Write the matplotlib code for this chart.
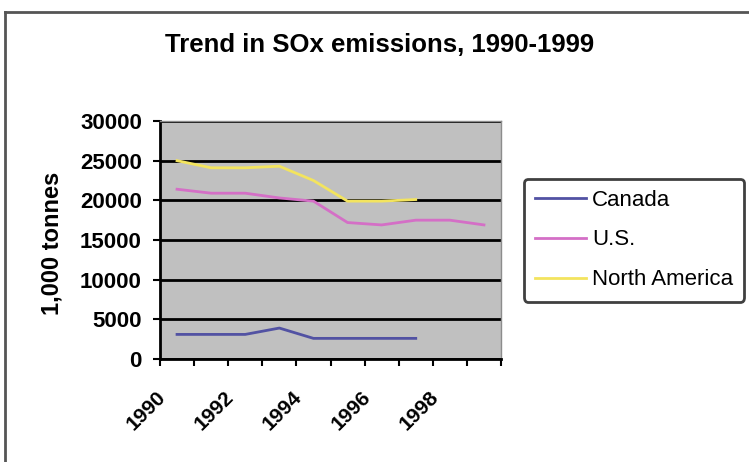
import matplotlib
matplotlib.use('Agg')
import matplotlib.pyplot as plt
import matplotlib.transforms as mtransforms

# values (1,000 tonnes)
years = [1990, 1991, 1992, 1993, 1994, 1995, 1996, 1997, 1998, 1999]
canada = [3100, 3100, 3100, 3900, 2600, 2600, 2600, 2600]
us = [21400, 20900, 20900, 20300, 19900, 17200, 16900, 17500, 17500, 16900]
north_america = [25000, 24100, 24100, 24300, 22500, 19900, 19900, 20100]
year_labels = ['1990', '1992', '1994', '1996', '1998']

plt.rcParams['font.family'] = ['Liberation Sans', 'DejaVu Sans']

fig = plt.figure(figsize=(7.49, 4.62), dpi=100)
ax = fig.add_axes([160/749, 1-359/462, 341/749, 238/462])
ax.set_facecolor('#c0c0c0')

x = list(range(len(years)))
ax.plot(x[:len(canada)], canada, color='#5252a3', lw=2, label='Canada')
ax.plot(x[:len(us)], us, color='#d46fc6', lw=2, label='U.S.')
ax.plot(x[:len(north_america)], north_america, color='#f3e45e', lw=2, label='North America')

ax.set_xlim(-0.5, len(years) - 0.5)
ax.set_ylim(0, 30000)
ax.set_yticks(range(0, 30001, 5000))
ax.yaxis.grid(True, color='black', lw=2)
ax.set_axisbelow(True)

# tick marks at category boundaries, labels every other year
ax.xaxis.remove_overlapping_locs = False
ax.set_xticks([i - 0.5 for i in range(len(years) + 1)])
ax.set_xticklabels([])
ax.set_xticks([years.index(int(y)) - 0.5 for y in year_labels], year_labels, minor=True)
ax.tick_params(axis='x', which='minor', length=0, pad=25)
ax.tick_params(axis='x', which='major', length=5, width=1.5, direction='out')
ax.tick_params(axis='y', length=5, width=1.5, pad=8, labelsize=16)
for lab in ax.get_yticklabels():
    lab.set_fontweight('bold')
off = mtransforms.ScaledTranslation(2/72, 0, fig.dpi_scale_trans)
for lab in ax.get_xticklabels(minor=True):
    lab.set_rotation(45)
    lab.set_ha('right')
    lab.set_va('center')
    lab.set_rotation_mode('anchor')
    lab.set_fontsize(15)
    lab.set_fontweight('bold')
    lab.set_transform(lab.get_transform() + off)

for s in ['left', 'bottom']:
    ax.spines[s].set_linewidth(2)
    ax.spines[s].set_color('black')
for s in ['top', 'right']:
    ax.spines[s].set_linewidth(1)
    ax.spines[s].set_color('#8c8c8c')

leg = ax.legend(loc='center left', bbox_to_anchor=(524/749, 1-240/462),
                bbox_transform=fig.transFigure, fontsize=16, frameon=True,
                fancybox=True, handlelength=2.3, handletextpad=0.25,
                labelspacing=0.85, borderpad=0.5, borderaxespad=0)
leg.get_frame().set_edgecolor('#404040')
leg.get_frame().set_linewidth(2)
leg.get_frame().set_alpha(1)

fig.text(380/749, 1-45/462, 'Trend in SOx emissions, 1990-1999',
         ha='center', va='center', fontsize=18.5, fontweight='bold')
fig.text(52/749, 1-243/462, '1,000 tonnes', rotation=90,
         ha='center', va='center', fontsize=17, fontweight='bold')

# outer chart border (only top and left edges are visible)
fig.add_artist(plt.Line2D([5/749, 5/749], [0, 1-12/462], transform=fig.transFigure, color='#555555', lw=2))
fig.add_artist(plt.Line2D([5/749, 1], [1-12/462, 1-12/462], transform=fig.transFigure, color='#555555', lw=2))

fig.savefig('out.png', dpi=100)
